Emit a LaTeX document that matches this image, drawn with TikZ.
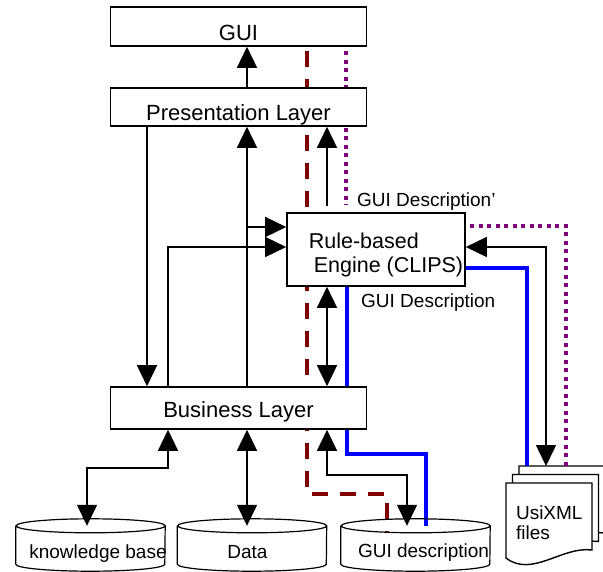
\documentclass[tikz,border=0pt]{standalone}
\usepackage{fontspec}
\setmainfont{Liberation Sans}
\usepackage{tikz}
\usetikzlibrary{arrows.meta}
\pgfdeclarelayer{fond}
\pgfsetlayers{fond,main}
\definecolor{rougefonce}{RGB}{128,0,0}
\definecolor{violet}{RGB}{128,0,128}

\begin{document}
\begin{tikzpicture}[x=1pt,y=-1pt]
\tikzstyle{fleche}=[-{Triangle[length=21pt,width=20pt]},line width=1.5pt]
\tikzstyle{fleches}=[{Triangle[length=21pt,width=20pt]}-{Triangle[length=21pt,width=20pt]},line width=1.5pt]
\tikzstyle{tiret}=[rougefonce,line width=4pt,dash pattern=on 16pt off 12pt,dash phase=24pt]
\tikzstyle{pointille}=[violet,line width=3.5pt,dash pattern=on 4pt off 4.5pt,dash phase=4pt]
\tikzstyle{bleu}=[blue,line width=3.5pt]
\tikzset{couche/.style={draw,line width=1.6pt,fill=white,minimum width=256pt,minimum height=#1,
inner sep=2pt,text height=27pt,text depth=0pt,font=\fontsize{22}{24}\selectfont},
couche/.default={39pt},
moteur/.style={draw,line width=1.6pt,fill=white,minimum width=178pt,minimum height=73pt,
inner sep=0pt,align=left,font=\fontsize{21.5}{24}\selectfont},
bdd/.style={minimum width=149pt,minimum height=38pt,inner sep=0pt},
texte/.style={inner sep=0pt,font=\fontsize{19}{20}\selectfont}}
\useasboundingbox (0,0) rectangle (603,571);
% couches
\node[couche] (gui) at (238.5,26.5) {GUI};
\node[couche=38pt] (pres) at (238.5,107) {Presentation Layer};
\node[couche=42pt,text height=18pt] (bus) at (238.5,408) {Business Layer};
\node[moteur] (engine) at (376,249.5) {\rule{0pt}{25.5pt}\hspace*{20pt}Rule-based\\\hspace*{25pt}Engine (CLIPS)};
% bases de donnees
\node[bdd] (kb) at (90.5,545) {};
\node[bdd] (data) at (252,545) {};
\node[bdd] (gd) at (415.5,545) {};
\foreach \c in {kb,data,gd}
\draw[line width=1.2pt] (\c.north west) -- (\c.south west) arc (180:360:74.5pt and 7pt)
-- (\c.north east) arc (0:360:74.5pt and 7pt);
\node[texte,anchor=base] (kbl) at (98,558) {knowledge base};
\node[texte,anchor=base] (datal) at (247.5,558) {Data};
\node[texte,anchor=base] (gdl) at (423.5,557) {GUI description};
% fichiers UsiXML
\coordinate (usitop) at (519,466);
\foreach \dx/\dy in {13/-17,6.5/-8.5,0/0}
\draw[line width=1.4pt,fill=white,shift={(\dx,\dy)}] (506,483) -- (592,483) -- (592,550)
.. controls (562,546) and (532,578) .. (506,558) -- cycle;
\node[texte,align=left] (usi) at (549.3,523) {UsiXML\\files};
% colonnes et lignes des liens
\coordinate (xa) at (147,0);
\coordinate (xb) at (168,0);
\coordinate (xc) at (247,0);
\coordinate (xd) at (327,0);
\coordinate (xr) at (307,0);
\coordinate (xp) at (346,0);
\coordinate (xbl) at (347,0);
\coordinate (ya) at (0,227);
\coordinate (yb) at (0,247);
\coordinate (pend) at (346,205);
% liens
\draw[fleche] (pres.north -| xc) -- (gui.south -| xc);
\draw[fleche] (pres.south -| xa) -- (bus.north -| xa);
\draw[fleche] (bus.north -| xc) -- (pres.south -| xc);
\draw[fleche] (xc |- ya) -- (engine.west |- ya);
\draw[fleche] (bus.north -| xb) |- (engine.west |- yb);
\draw[fleche,shorten <=6pt] (engine.north -| xd) -- (pres.south -| xd);
\draw[fleches] (engine.south -| xd) -- (bus.north -| xd);
\draw[fleches] ([yshift=2.5pt]engine.east) -| ([xshift=27pt]usitop);
\draw[fleches] (bus.south -| xb) -- ++(0,38) -| ([xshift=-3.5pt]kb.north);
\draw[fleches] (bus.south -| xc) -- (data.north -| xc);
\draw[fleches] (bus.south -| xd) -- ++(0,45) -| ([xshift=-8.5pt]gd.north);
% descriptions
\begin{pgfonlayer}{fond}
\draw[tiret] (gui.south -| xr) -- ++(0,447) -| ([xshift=-28.5pt,yshift=-7pt]gd.north);
\draw[pointille] (gui.south -| xp) -- (pend);
\draw[bleu] (engine.south -| xbl) -- ++(0,167) -| ([xshift=10.5pt]gd.north);
\end{pgfonlayer}
\draw[bleu] ([yshift=-18.5pt]engine.east) -| ([xshift=8pt]usitop);
\draw[pointille] ([yshift=23.5pt]engine.east) -| ([xshift=47pt]usitop);
\node[texte,anchor=base west] (descp) at (357,206) {GUI Description’};
\node[texte,anchor=base west] (desc) at (361,307) {GUI Description};
\end{tikzpicture}
\end{document}
